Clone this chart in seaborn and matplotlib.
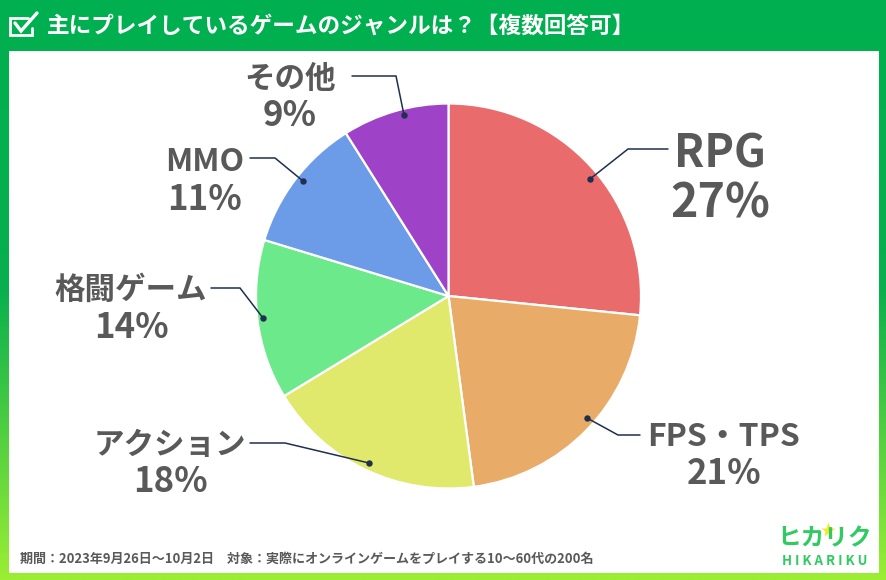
import numpy as np
import matplotlib
matplotlib.use("Agg")
import matplotlib.pyplot as plt
from matplotlib.colors import LinearSegmentedColormap
from matplotlib.patches import Rectangle
import seaborn as sns

categories = ["RPG", "FPS・TPS", "アクション", "格闘ゲーム", "MMO", "その他"]
percent_labels = [27, 21, 18, 14, 11, 9]
slice_values = [26.6, 21.3, 18.4, 13.4, 11.35, 8.95]
slice_colors = ["#EA6B6B", "#E8AC68", "#E0E96B", "#6CE98A", "#6C9CE8", "#9E42C8"]
title = "主にプレイしているゲームのジャンルは？【複数回答可】"
footnote = "期間：2023年9月26日～10月2日　対象：実際にオンラインゲームをプレイする10～60代の200名"

sns.set_theme(style="white")
plt.rcParams['font.family'] = ['Noto Sans CJK JP', 'DejaVu Sans']

W, H = 886, 580
fig = plt.figure(figsize=(W / 100, H / 100), dpi=100)

bg = fig.add_axes([0, 0, 1, 1])
cmap = LinearSegmentedColormap.from_list("g", ["#00AF50", "#08B04E", "#9BEE33"])
bg.imshow(np.linspace(0, 1, 256).reshape(-1, 1), extent=[0, W, H, 0], aspect="auto", cmap=cmap, zorder=0)
bg.add_patch(Rectangle((9, 51), 870, 522, fc="white", ec="none", zorder=1))
bg.set_xlim(0, W); bg.set_ylim(H, 0); bg.axis("off")

# pie
cx, cy, r = 448.5, 296, 192.5
pie_ax = fig.add_axes([(cx - r) / W, (H - cy - r) / H, 2 * r / W, 2 * r / H])
pie_ax.pie(slice_values, colors=sns.color_palette(slice_colors), startangle=90, counterclock=False, radius=1,
           wedgeprops=dict(edgecolor="white", linewidth=1.6))
pie_ax.set_xlim(-1, 1); pie_ax.set_ylim(-1, 1)
pie_ax.patch.set_alpha(0)

ov = fig.add_axes([0, 0, 1, 1])
ov.set_xlim(0, W); ov.set_ylim(H, 0); ov.axis("off"); ov.patch.set_alpha(0)

GREY = "#595959"
NAVY = "#1F2F4F"
layout = [
    (720, 155, 204, 32, 33.5, [(668, 149), (628, 149), (590, 179)]),
    (724, 437, 473, 23, 25, [(640, 435), (618, 435), (587, 418)]),
    (170, 445, 482, 22, 25, [(250, 443), (285, 443), (369, 463)]),
    (131, 290, 327, 22, 25, [(211, 288), (240, 288), (263, 318)]),
    (205, 162, 199, 23, 25, [(250, 158), (275, 158), (303, 181)]),
    (290, 79, 116, 22, 25, [(352, 76), (396, 76), (404, 115)]),
]
for name, val, (x, y1, y2, fs1, fs2, pts) in zip(categories, percent_labels, layout):
    ov.text(x, y1, name, ha="center", va="center", fontsize=fs1, fontweight="bold", color=GREY)
    ov.text(x, y2, f"{val}%", ha="center", va="center", fontsize=fs2, fontweight="bold", color=GREY)
    px, py = zip(*pts)
    ov.plot(px, py, color=NAVY, lw=1.1, solid_joinstyle="miter")
    ov.plot(px[-1], py[-1], "o", ms=3.6, color=NAVY)

# header
ov.text(47, 26, title, ha="left", va="center", fontsize=16.3, fontweight="bold", color="white")
ov.plot([28, 10, 10, 32, 32], [18, 18, 35, 35, 28], color="white", lw=2, solid_joinstyle="miter")
ov.plot([15, 21, 37], [23, 31, 13], color="white", lw=2.4, solid_joinstyle="miter")

# footer
ov.text(20, 559, footnote, ha="left", va="center", fontsize=9.4, fontweight="bold", color=GREY)

# logo
LG = "#2ECC60"
ov.text(825, 538, "ヒカリク", ha="center", va="center", fontsize=17, fontweight="bold", color=LG)
ov.text(825, 561, "H I K A R I K U", ha="center", va="center", fontsize=9.5, fontweight="bold", color=LG)
ov.plot(828, 530, marker="*", ms=11, color="#F5E926", mec="none")

fig.savefig("out.png", dpi=100)
